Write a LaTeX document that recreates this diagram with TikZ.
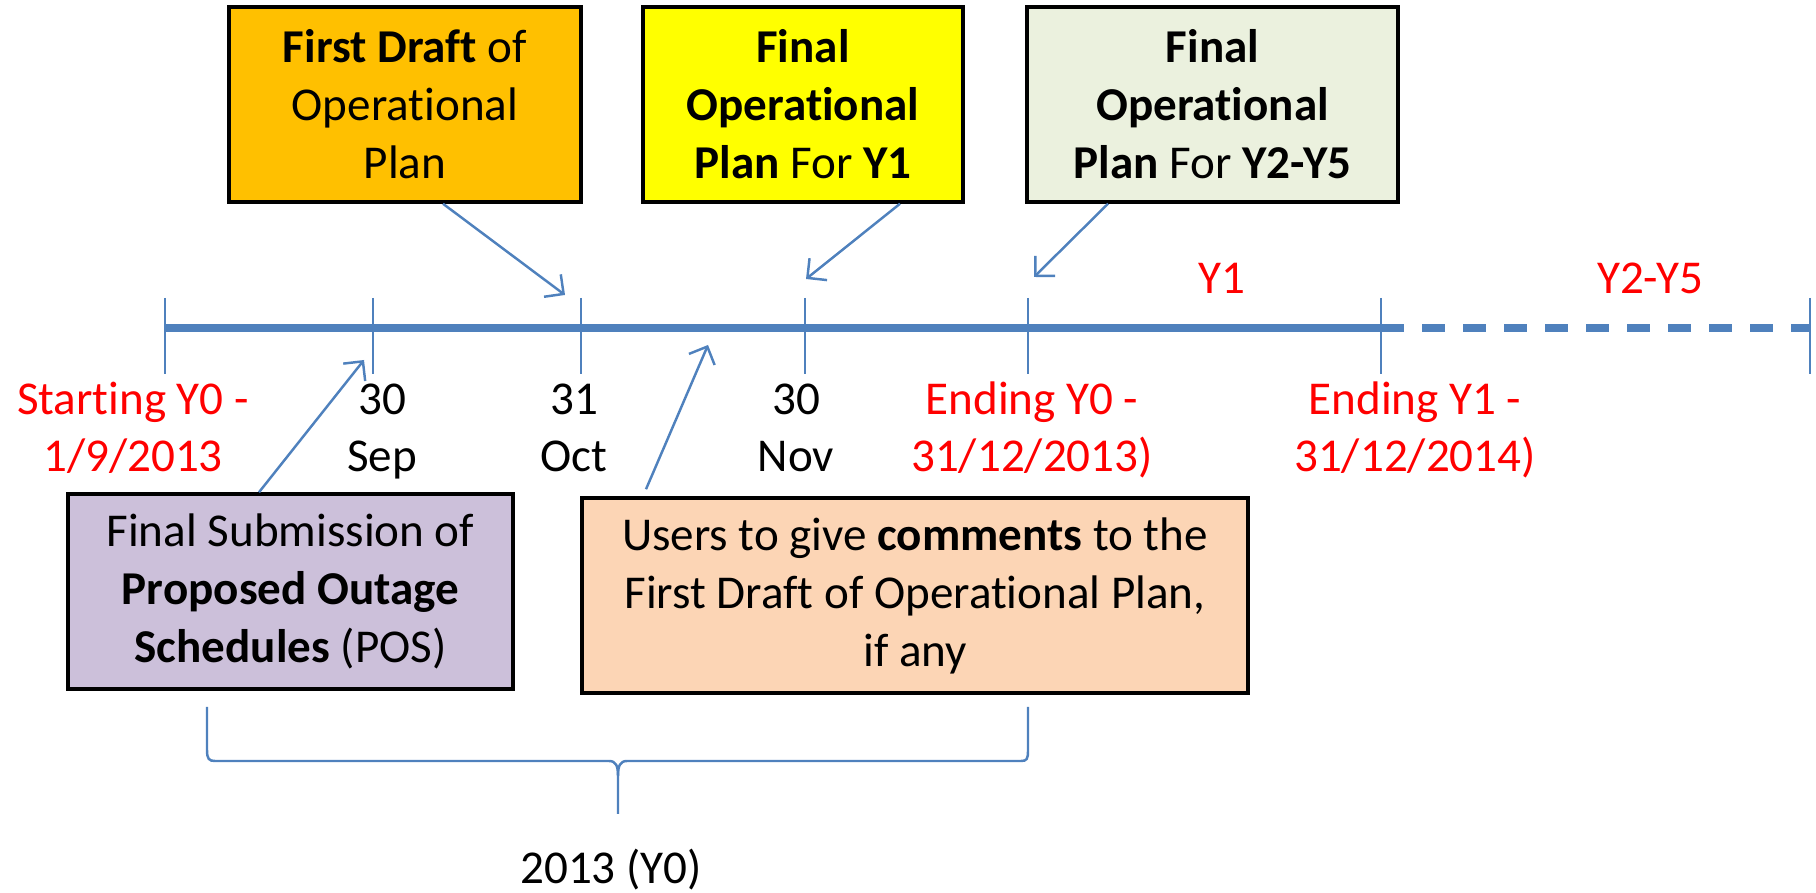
\documentclass[tikz,border=0pt]{standalone}
\usepackage{fontspec}
\setmainfont{Carlito}[RawFeature={-liga,-calt,-clig}]
\usepackage{xcolor}
\definecolor{naranja}{RGB}{255, 192, 0}
\definecolor{amarillo}{RGB}{255, 255, 0}
\definecolor{verdeClaro}{RGB}{235, 241, 222}
\definecolor{lila}{RGB}{204, 192, 218}
\definecolor{durazno}{RGB}{252, 213, 181}
\definecolor{azul}{RGB}{79, 129, 189}
\definecolor{rojo}{RGB}{255, 0, 0}
\usepackage{tikz}
\usetikzlibrary{arrows.meta,calc,positioning}
\tikzstyle{box}  =[draw, line width=1pt, align=center,
                   minimum height=1.95cm, inner sep=0pt,
                   font=\fontsize{13.4}{16.5}\selectfont]
\tikzstyle{pointer}=[azul, line width=0.7pt,
                   -{Straight Barb[length=1.4mm,width=2.8mm]}]
\tikzstyle{marca}=[azul, line width=0.7pt]
\tikzstyle{eje}  =[azul, line width=2pt]
\tikzstyle{lbl}  =[align=center, inner sep=0pt,
                   font=\fontsize{13.4}{16.5}\selectfont]
\tikzstyle{fecha}=[lbl, text height=0.92cm, text depth=0.12cm]

\begin{document}
\begin{tikzpicture}

    \useasboundingbox (0,0) rectangle (18.16,-8.93);

    % time line
    \foreach \x [count=\i from 0] in {1.65,3.73,5.81,8.05,10.28,13.81,18.10}
    {
        \coordinate (t\i) at (\x,-3.28);
        \draw [marca] (\x,-2.98) -- (\x,-3.74);
    }
    \draw [eje] (t0) -- (t5);
    \draw [eje,dash pattern=on 0.23cm off 0.18cm] (t5) -- (t6);

    \node (y1) [lbl,text=rojo] at (12.22,-2.78) {Y1};
    \node (y25) [lbl,text=rojo] at (16.50,-2.78) {Y2-Y5};

    \node (d0) [fecha,text=rojo] at (1.33,-4.32) {Starting Y0 -\\1/9/2013};
    \node (d1) [fecha] at (3.82,-4.32) {30\\Sep};
    \node (d2) [fecha] at (5.74,-4.32) {31\\Oct};
    \node (d3) [fecha] at (7.96,-4.32) {30\\Nov};
    \node (d4) [fecha,text=rojo] at (10.32,-4.32) {Ending Y0 -\\31/12/2013)};
    \node (d5) [fecha,text=rojo] at (14.15,-4.32) {Ending Y1 -\\31/12/2014)};

    % boxes
    \node (draft) [box,fill=naranja,minimum width=3.52cm] at (4.05,-1.045)
        {\textbf{First Draft} of\\Operational\\Plan};
    \node (planA) [box,fill=amarillo,minimum width=3.20cm] at (8.03,-1.045)
        {\textbf{Final}\\\textbf{Operational}\\\textbf{Plan} For \textbf{Y1}};
    \node (planB) [box,fill=verdeClaro,minimum width=3.71cm] at (12.125,-1.045)
        {\textbf{Final}\\\textbf{Operational}\\\textbf{Plan} For \textbf{Y2-Y5}};
    \node (pos) [box,fill=lila,minimum width=4.45cm] at (2.905,-5.915)
        {Final Submission of\\\textbf{Proposed Outage}\\\textbf{Schedules} (POS)};
    \node (users) [box,fill=durazno,minimum width=6.66cm] at (9.15,-5.955)
        {Users to give \textbf{comments} to the\\First Draft of Operational Plan,\\if any};

    % arrows
    \coordinate (p0) at (5.65,-2.95);
    \coordinate (p1) at (8.06,-2.79);
    \coordinate (p2) at (10.34,-2.77);
    \coordinate (p3) at (3.64,-3.60);
    \coordinate (p4) at (7.08,-3.45);
    \draw [pointer] ([xshift=0.38cm]draft.south) -- (p0);
    \draw [pointer] ([xshift=0.97cm]planA.south) -- (p1);
    \draw [pointer] ([xshift=-1.045cm]planB.south) -- (p2);
    \draw [pointer] ([xshift=-0.315cm]pos.north) -- (p3);
    \draw [pointer] ([xshift=-2.69cm,yshift=0.07cm]users.north) -- (p4);

    % brace
    \draw [marca] (2.07,-7.07) -- (2.07,-7.50)
        .. controls (2.07,-7.59) and (2.09,-7.61) .. (2.15,-7.61) -- (6.09,-7.61)
        .. controls (6.16,-7.61) and (6.18,-7.66) .. (6.18,-7.76) -- (6.18,-8.14);
    \draw [marca] (6.18,-7.76)
        .. controls (6.18,-7.66) and (6.20,-7.61) .. (6.27,-7.61) -- (10.21,-7.61)
        .. controls (10.27,-7.61) and (10.28,-7.59) .. (10.28,-7.50) -- (10.28,-7.07);
    \node (year) [lbl] at (6.11,-8.70) {2013 (Y0)};

\end{tikzpicture}
\end{document}
